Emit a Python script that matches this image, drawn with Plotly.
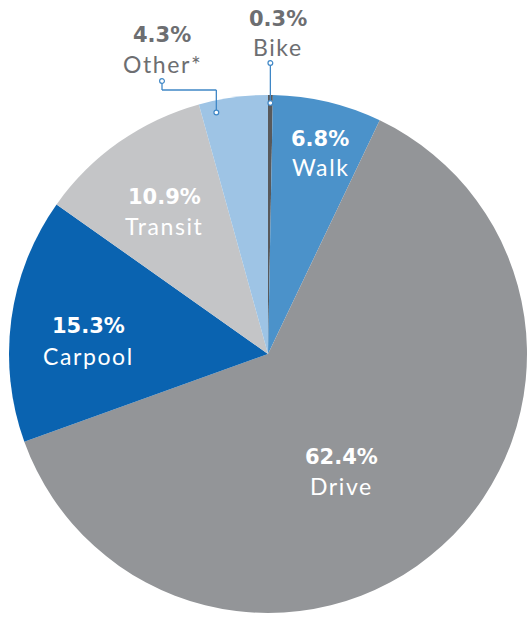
import math
import plotly.graph_objects as go

# ---------------- data ----------------
categories = ["Bike", "Walk", "Drive", "Carpool", "Transit", "Other*"]
shares = [0.3, 6.8, 62.4, 15.3, 10.9, 4.3]
pct_labels = ["0.3%", "6.8%", "62.4%", "15.3%", "10.9%", "4.3%"]

# ---------------- style ----------------
W, H = 527, 617
CX, CY, R = 268, 354, 259
colors = ["#58595b", "#4b92ca", "#939598", "#0a63b0", "#c4c5c7", "#9ec4e5"]
TXT_OUT = "#6d6e71"
LEAD = "#3f87c6"
PCT_FONT = "DejaVu Sans"
NAME_FONT = "Lato"
PCT_FS = 21
NAME_FS = 23
SPACING = "1.6px"

# label centre positions (pixels): (x, y_pct, y_name, colour)
label_pos = {
    "Bike": (278, 19, 47, TXT_OUT),
    "Walk": (320, 139, 167, "white"),
    "Drive": (341, 457, 486, "white"),
    "Carpool": (88, 326, 356, "white"),
    "Transit": (164, 197, 226, "white"),
    "Other*": (162, 35, 64, TXT_OUT),
}


def px(x):
    return x / W


def py(y):
    return 1 - y / H


fig = go.Figure(
    go.Pie(
        labels=categories,
        values=shares,
        sort=False,
        direction="clockwise",
        rotation=0,
        marker=dict(colors=colors, line=dict(width=0)),
        textinfo="none",
        hoverinfo="label+percent",
        showlegend=False,
        domain=dict(x=[px(CX - R), px(CX + R)], y=[py(CY + R), py(CY - R)]),
    )
)

# slice angle helpers (from data)
total = sum(shares)
cum = []
acc = 0
for v in shares:
    cum.append(acc)
    acc += v


def point_at(frac, r):
    a = 2 * math.pi * frac
    return CX + r * math.sin(a), CY - r * math.cos(a)


shapes = []


def seg(x0, y0, x1, y1):
    shapes.append(dict(type="line", xref="paper", yref="paper",
                       x0=px(x0), y0=py(y0), x1=px(x1), y1=py(y1),
                       line=dict(color=LEAD, width=1.3), layer="above"))


def dot(x, y, r=2.4):
    shapes.append(dict(type="circle", xref="paper", yref="paper",
                       x0=px(x - r), x1=px(x + r), y0=py(y + r), y1=py(y - r),
                       fillcolor="white", line=dict(color=LEAD, width=1.2),
                       layer="above"))


# Bike leader: vertical from slice middle up to label
i = categories.index("Bike")
bx, by = point_at((cum[i] + shares[i] / 2) / total, R - 8)
seg(bx, by, bx, 63)
dot(bx, by)
dot(bx, 63)

# Other leader: elbow from inside slice to label
i = categories.index("Other*")
ox, oy = point_at((cum[i] + shares[i] * 0.22) / total, R - 12)
lx = label_pos["Other*"][0]
seg(ox, oy, ox, 90)
seg(ox, 90, lx, 90)
seg(lx, 90, lx, 81)
dot(ox, oy)
dot(lx, 81)

annotations = []
for cat, pct in zip(categories, pct_labels):
    x, y1, y2, col = label_pos[cat]
    annotations.append(dict(x=px(x), y=py(y1), xref="paper", yref="paper",
                            text="<b>" + pct + "</b>", showarrow=False,
                            xanchor="center", yanchor="middle",
                            font=dict(family=PCT_FONT, size=PCT_FS, color=col)))
    annotations.append(dict(x=px(x), y=py(y2), xref="paper", yref="paper",
                            text='<span style="letter-spacing:' + SPACING + '">' + cat + "</span>",
                            showarrow=False,
                            xanchor="center", yanchor="middle",
                            font=dict(family=NAME_FONT, size=NAME_FS, color=col)))

fig.update_layout(
    width=W, height=H,
    margin=dict(l=0, r=0, t=0, b=0),
    paper_bgcolor="white",
    plot_bgcolor="white",
    shapes=shapes,
    annotations=annotations,
)

fig.write_html("out.html", post_script="document.body.style.margin='0';",
               config={"displayModeBar": False})
